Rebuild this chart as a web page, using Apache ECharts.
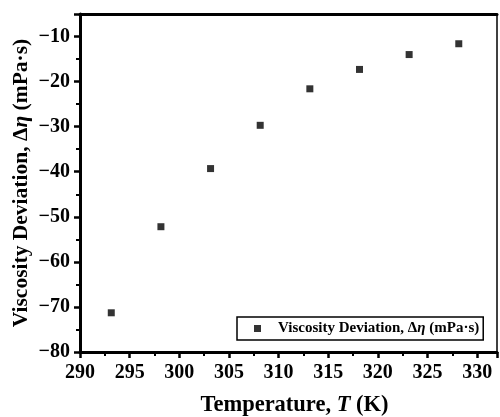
<!DOCTYPE html>
<html><head><meta charset="utf-8">
<script src="https://cdn.jsdelivr.net/npm/echarts@6/dist/echarts.min.js"></script>
<style>html,body{margin:0;padding:0;background:#fff}#c{width:500px;height:417px}</style>
</head><body><div id="c"></div>
<script>
const temperatures = [293.15, 298.15, 303.15, 308.15, 313.15, 318.15, 323.15, 328.15];
const viscosityDeviation = [-71.3, -52.2, -39.3, -29.7, -21.6, -17.3, -14.0, -11.6];
const xTicks = [290, 295, 300, 305, 310, 315, 320, 325, 330];
const yTicks = [-80, -70, -60, -50, -40, -30, -20, -10];
const seriesName = 'Viscosity Deviation, Δη (mPa·s)';

const FONT = '"Liberation Serif", "Times New Roman", serif';
const chart = echarts.init(document.getElementById('c'), null, {renderer: 'canvas'});
const fmt = v => String(v).replace('-', '\u2212');
const data = temperatures.map((t, i) => [t, viscosityDeviation[i]]);
const mkRich = s => ({
  n: {fontFamily: FONT, fontWeight: 'bold', fontSize: s, color: '#000'},
  i: {fontFamily: FONT, fontWeight: 'bold', fontStyle: 'italic', fontSize: s, color: '#000'}
});

chart.setOption({
  animation: false,
  backgroundColor: '#fff',
  grid: {left: 80, top: 14, right: 3, bottom: 65, containLabel: false, outerBoundsMode: 'none'},
  legend: {
    show: true,
    left: 237, top: 317,
    padding: [4, 4, 4, 17],
    borderColor: '#000', borderWidth: 1.5, borderRadius: 0,
    backgroundColor: '#fff',
    itemWidth: 7, itemHeight: 7, itemGap: 0,
    icon: 'rect',
    data: [seriesName],
    formatter: () => '{n|Viscosity Deviation, Δ}{i|η}{n| (mPa·s)}',
    textStyle: {
      padding: [0, 0, 0, 12],
      rich: mkRich(15)
    }
  },
  xAxis: [{
    type: 'value', min: 290, max: 332, interval: 5,
    name: '{n|Temperature, }{i|T}{n| (K)}',
    nameLocation: 'middle', nameGap: 42, nameMoveOverlap: false,
    nameTextStyle: {rich: mkRich(22.5), padding: [0, 0, 0, 12]},
    axisLine: {show: true, onZero: false, lineStyle: {color: '#000', width: 3}},
    axisTick: {show: true, inside: false, length: 6, lineStyle: {color: '#000', width: 2.5}},
    minorTick: {show: true, splitNumber: 2, length: 4, lineStyle: {color: '#000', width: 2}},
    splitLine: {show: false},
    axisLabel: {
      margin: 11, fontFamily: FONT, fontWeight: 'bold', fontSize: 20, color: '#000',
      formatter: v => xTicks.includes(v) ? fmt(v) : ''
    }
  }, {
    type: 'value', position: 'top', min: 290, max: 332,
    axisLine: {show: true, onZero: false, lineStyle: {color: '#000', width: 3}},
    axisTick: {show: false}, axisLabel: {show: false}, splitLine: {show: false}
  }],
  yAxis: [{
    type: 'value', min: -80, max: -5, interval: 10,
    name: '{n|Viscosity Deviation, Δ}{i|η}{n| (mPa·s)}',
    nameLocation: 'middle', nameGap: 48, nameMoveOverlap: false,
    nameTextStyle: {rich: mkRich(21.5)},
    axisLine: {show: true, onZero: false, lineStyle: {color: '#000', width: 3}},
    axisTick: {show: true, inside: false, length: 6, lineStyle: {color: '#000', width: 2.5}},
    minorTick: {show: true, splitNumber: 2, length: 4, lineStyle: {color: '#000', width: 2}},
    splitLine: {show: false},
    axisLabel: {
      margin: 10, fontFamily: FONT, fontWeight: 'bold', fontSize: 20, color: '#000',
      formatter: v => yTicks.includes(v) ? fmt(v) : ''
    }
  }, {
    type: 'value', position: 'right', min: -80, max: -5,
    axisLine: {show: true, onZero: false, lineStyle: {color: '#000', width: 1.5}},
    axisTick: {show: false}, axisLabel: {show: false}, splitLine: {show: false}
  }],
  series: [{
    name: seriesName,
    type: 'scatter',
    symbol: 'rect',
    symbolSize: 7,
    itemStyle: {color: '#000'},
    data: data
  }]
});
</script></body></html>
